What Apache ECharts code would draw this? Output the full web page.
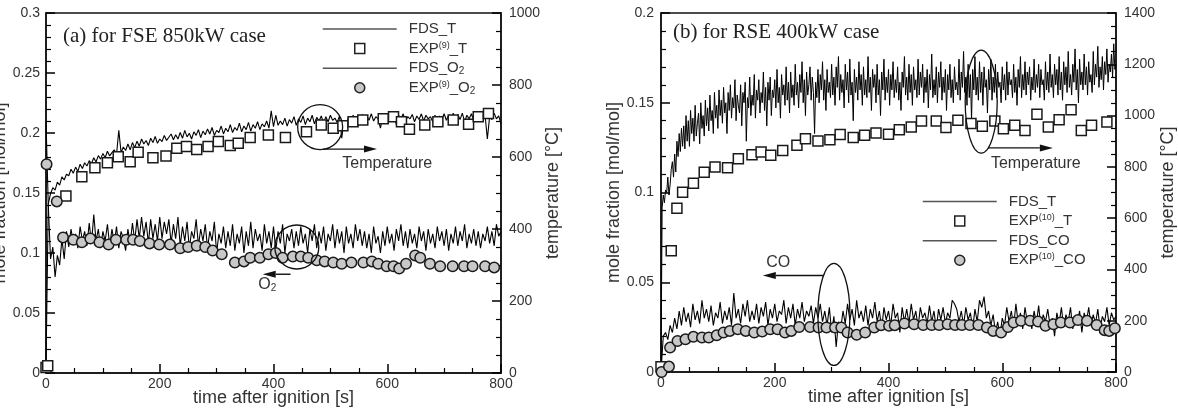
<!DOCTYPE html>
<html><head><meta charset="utf-8">
<script src="https://cdn.jsdelivr.net/npm/echarts@6/dist/echarts.min.js"></script>
<style>html,body{margin:0;padding:0;background:#fff}#c{width:1178px;height:408px}</style>
</head><body><div id="c"></div>
<script>
// ---------- DATA ----------
const fdsStep_a = 4;    // panel (a) FDS output every 4 s
const fdsStepT_b = 2;   // panel (b) FDS temperature every 2 s
const fdsStepCO_b = 4;  // panel (b) FDS CO every 4 s

// (a) FSE 850kW : FDS temperature [°C]
const fdsT_a = [20,470,498,515,508,530,522,545,536,552,
548,566,555,572,560,580,568,584,575,590,
582,598,586,604,594,610,598,616,603,612,
620,607,674,612,628,618,636,620,640,626,
644,630,650,636,646,632,652,640,657,638,
650,643,660,646,655,664,648,662,650,668,
652,674,656,666,650,670,660,676,654,672,
662,678,664,682,660,674,668,686,664,680,
670,690,668,682,674,694,670,686,676,696,
672,690,680,698,676,692,684,700,680,728,
684,716,688,700,690,708,686,704,694,712,
688,706,696,714,690,708,698,716,692,710,
700,714,694,712,698,716,702,708,696,714,
652,700,690,712,698,716,700,710,704,718,
698,714,702,720,700,712,706,680,710,716,
700,718,704,714,690,716,704,720,700,712,
706,718,698,714,704,720,700,716,706,712,
698,716,690,714,704,720,702,716,706,722,
700,718,704,722,698,716,706,720,702,718,
708,724,702,716,650,712,704,722,706,714,
692];

// (a) FDS O2 mole fraction
const fdsO2_a = [0.21,0.14,0.095,0.105,0.08,0.098,0.09,0.112,0.095,0.118,
0.105,0.12,0.108,0.116,0.104,0.122,0.11,0.118,0.106,0.125,
0.108,0.132,0.11,0.12,0.104,0.118,0.11,0.124,0.106,0.12,
0.108,0.122,0.104,0.118,0.112,0.102,0.12,0.108,0.125,0.11,
0.128,0.112,0.13,0.114,0.126,0.108,0.128,0.112,0.124,0.11,
0.13,0.112,0.126,0.116,0.128,0.108,0.124,0.112,0.13,0.106,
0.122,0.11,0.126,0.104,0.118,0.112,0.128,0.106,0.12,0.11,
0.124,0.104,0.118,0.11,0.126,0.1,0.116,0.108,0.122,0.104,
0.118,0.106,0.124,0.102,0.116,0.108,0.122,0.1,0.118,0.106,
0.126,0.104,0.12,0.11,0.116,0.102,0.124,0.108,0.118,0.104,
0.122,0.102,0.118,0.108,0.124,0.1,0.116,0.11,0.12,0.104,
0.118,0.106,0.122,0.108,0.116,0.1,0.12,0.11,0.124,0.104,
0.118,0.108,0.122,0.102,0.116,0.11,0.124,0.104,0.12,0.108,
0.118,0.1,0.122,0.108,0.116,0.104,0.124,0.11,0.12,0.106,
0.118,0.104,0.116,0.1,0.122,0.108,0.114,0.1,0.118,0.106,
0.122,0.108,0.116,0.102,0.12,0.11,0.124,0.106,0.118,0.104,
0.12,0.108,0.116,0.104,0.122,0.11,0.118,0.102,0.12,0.108,
0.116,0.104,0.122,0.11,0.118,0.106,0.12,0.102,0.116,0.108,
0.122,0.106,0.118,0.11,0.124,0.104,0.116,0.108,0.12,0.106,
0.118,0.104,0.116,0.11,0.122,0.108,0.118,0.106,0.124,0.114,
0.118];

// (a) experiment [9]
const expT_a_time = [0,3,35,63,86,108,127,148,162,188,211,230,247,265,285,303,324,338,359,391,421,458,484,505,522,540,557,593,611,625,639,666,689,716,743,760,778];
const expT_a_val  = [15,20,492,545,570,584,601,587,613,598,603,624,629,621,629,643,632,638,654,661,654,670,689,680,687,698,703,706,712,698,677,689,698,703,691,712,721];
const expO2_a_time = [1,19,30,48,63,78,94,110,123,141,153,165,182,199,218,236,250,265,280,293,309,332,348,359,376,391,404,416,434,448,461,476,490,505,520,537,558,573,584,599,611,621,633,649,658,675,693,715,735,750,772,788];
const expO2_a_val  = [0.174,0.143,0.113,0.111,0.109,0.112,0.109,0.107,0.111,0.111,0.111,0.110,0.108,0.107,0.107,0.104,0.105,0.106,0.105,0.102,0.099,0.092,0.093,0.096,0.096,0.099,0.100,0.096,0.097,0.097,0.096,0.094,0.093,0.092,0.091,0.092,0.092,0.093,0.091,0.089,0.089,0.087,0.091,0.098,0.096,0.091,0.089,0.089,0.089,0.089,0.089,0.088];

// (b) RSE 400kW : FDS temperature [°C], every 2 s
const fdsT_b = [20,640,690,660,710,700,760,690,730,790,
820,760,850,780,900,840,930,860,950,880,
960,870,1000,900,980,880,1020,930,990,900,
1040,920,970,1010,890,1050,950,1000,920,1060,
960,1030,940,1080,980,1020,930,1090,990,1040,
950,1100,1000,1060,970,1110,1010,1050,930,1090,
1020,1120,990,1070,1030,1140,980,1080,1040,1010,
1120,960,1090,1050,1130,900,1070,1030,1150,1000,
1080,1040,1160,990,1100,1060,1140,1010,1090,1050,
1170,1020,1110,960,1130,1060,1150,1000,1100,1070,
1140,1030,1180,1050,1110,990,1160,1080,1120,1040,
1190,1060,1130,1010,1170,1070,1120,1040,1200,1080,
1130,1030,1160,1090,1210,1050,1140,1000,1170,1080,
1120,1190,1060,1150,1090,930,1130,1070,1180,1050,
1160,1100,1210,1060,1140,1020,1180,1090,1130,1070,
1200,1080,1150,1040,1190,1110,1230,1060,1160,1090,
1140,1030,1200,1100,1170,1050,1220,1080,1130,980,
1180,1090,1150,1060,1210,1100,1160,1040,1190,1080,
1140,1070,1230,1090,1150,1020,1180,1110,1160,1050,
1200,1080,1140,1000,1170,1100,1220,1060,1150,1090,
1180,1040,1160,1100,1210,1070,1140,1090,1190,1060,
1130,1020,1170,1110,1230,1080,1150,1060,1200,1090,
1160,1040,1190,1100,1140,1070,1220,1080,1170,1110,
1200,1050,1150,1090,1180,1030,1160,1100,1240,1070,
1140,1080,1190,1050,1170,1110,1210,1060,1150,1090,
1180,1020,1160,1100,1200,1070,1140,1050,1190,1100,
1130,1080,1220,1060,1170,1110,1250,1090,1150,1040,
1200,1070,1160,980,1180,1100,1230,1080,1150,1060,
1210,1090,1170,1040,1190,1110,1140,1010,1180,1100,
1220,1060,1150,1090,1200,1070,1170,1110,1130,1050,
1190,1100,1160,1060,1210,1080,1170,1120,1140,1070,
1200,1090,1150,1040,1180,1110,1230,1070,1160,1100,
1210,1080,1170,1120,1190,1060,1150,1100,1220,1090,
1160,1110,1200,1070,1180,1120,1140,1060,1210,1100,
1170,1090,1240,1110,1160,1070,1200,1120,1180,1080,
1230,1100,1170,1060,1210,1120,1190,1090,1250,1110,
1160,1080,1200,1130,1260,1100,1180,1050,1220,1120,
1170,1100,1240,1120,1190,1080,1210,1130,1160,1090,
1250,1120,1200,1150,1270,1110,1190,1140,1230,1100,
1210,1160,1260,1130,1200,1170,1240,1150,1280,1180,
1200];

// (b) FDS CO mole fraction, every 4 s
const fdsCO_b = [0.0,0.02,0.022,0.018,0.026,0.022,0.03,0.024,0.034,0.026,
0.036,0.028,0.033,0.025,0.038,0.029,0.034,0.027,0.04,0.03,
0.035,0.028,0.037,0.026,0.033,0.03,0.039,0.027,0.034,0.029,
0.036,0.026,0.044,0.03,0.035,0.027,0.038,0.031,0.04,0.028,
0.034,0.029,0.038,0.027,0.036,0.031,0.039,0.026,0.035,0.03,
0.038,0.028,0.034,0.032,0.04,0.027,0.036,0.03,0.038,0.026,
0.035,0.03,0.039,0.028,0.034,0.031,0.037,0.027,0.036,0.03,
0.038,0.028,0.034,0.026,0.036,0.022,0.031,0.014,0.028,0.024,
0.034,0.027,0.038,0.029,0.035,0.026,0.04,0.03,0.034,0.028,
0.037,0.026,0.035,0.03,0.039,0.028,0.034,0.024,0.036,0.029,
0.034,0.026,0.038,0.03,0.033,0.022,0.036,0.028,0.035,0.027,
0.038,0.029,0.034,0.025,0.036,0.03,0.033,0.027,0.037,0.028,
0.034,0.024,0.035,0.029,0.036,0.027,0.033,0.03,0.04,0.038,
0.035,0.028,0.034,0.026,0.036,0.029,0.033,0.024,0.035,0.028,
0.04,0.036,0.042,0.03,0.034,0.026,0.032,0.022,0.028,0.02,
0.03,0.026,0.036,0.028,0.034,0.025,0.038,0.027,0.033,0.024,
0.036,0.028,0.031,0.024,0.034,0.027,0.037,0.025,0.032,0.028,
0.035,0.026,0.03,0.02,0.033,0.027,0.036,0.025,0.032,0.028,
0.036,0.024,0.031,0.027,0.034,0.022,0.033,0.028,0.036,0.026,
0.032,0.027,0.035,0.024,0.031,0.028,0.036,0.026,0.033,0.029,
0.031];

// (b) experiment [10]
const expT_b_time = [0,18,28,38,57,76,95,117,136,160,176,193,214,239,254,276,297,315,338,358,378,400,419,440,458,484,501,522,545,565,587,602,622,640,661,681,700,721,739,757,784];
const expT_b_val  = [20,473,639,701,736,779,799,797,832,847,858,845,864,884,910,901,906,926,914,923,932,927,945,955,979,979,953,982,969,958,979,949,962,942,1005,955,984,1023,942,962,975];
const expCO_b_time = [1,14,16,29,43,57,72,84,98,110,121,135,149,164,178,192,205,218,229,243,262,277,291,306,317,328,344,359,375,387,401,411,428,445,461,476,489,504,517,529,543,558,573,584,598,610,620,633,649,663,676,690,703,719,733,749,766,780,788,798];
const expCO_b_val  = [0,0.003,0.0136,0.0173,0.0182,0.0196,0.0192,0.0192,0.0205,0.022,0.0229,0.0238,0.0229,0.022,0.0225,0.0238,0.0238,0.022,0.0229,0.0251,0.0251,0.0248,0.0248,0.0248,0.0248,0.022,0.0207,0.022,0.0248,0.0261,0.0257,0.0261,0.027,0.0266,0.0262,0.0262,0.0262,0.0266,0.0262,0.0262,0.0262,0.0262,0.0248,0.0229,0.022,0.0251,0.0276,0.0285,0.0285,0.0281,0.0257,0.0266,0.0276,0.0276,0.0289,0.0285,0.0262,0.0233,0.0229,0.0244];

// legend labels
const legendLabels = {
  'FDS_T': 'FDS_T', 'EXP9_T': 'EXP{sup|(9)}_T', 'FDS_O2': 'FDS_O{sub|2}', 'EXP9_O2': 'EXP{sup|(9)}_O{sub|2}',
  'EXP10_T': 'EXP{sup|(10)}_T', 'FDS_CO': 'FDS_CO', 'EXP10_CO': 'EXP{sup|(10)}_CO'
};

// annotations in data coordinates (series index picks the axes)
const notes = [
  {kind:'ellipse', series:0, at:[482,683], rx:22.5, ry:22.5},
  {kind:'arrow', series:0, from:[487,622], to:[582,622]},
  {kind:'text', series:0, at:[600,583], text:'Temperature'},
  {kind:'ellipse', series:2, at:[441,0.105], rx:22, ry:22},
  {kind:'arrow', series:2, from:[430,0.0823], to:[381,0.0823]},
  {kind:'text', series:2, at:[389,0.0733], text:'O{sub|2}'},
  {kind:'ellipse', series:4, at:[563,1054], rx:16, ry:51.5},
  {kind:'arrow', series:4, from:[575,874], to:[689,874]},
  {kind:'text', series:4, at:[659,814], text:'Temperature'},
  {kind:'ellipse', series:6, at:[304,0.0321], rx:16, ry:51},
  {kind:'arrow', series:6, from:[285,0.0538], to:[179,0.0538]},
  {kind:'text', series:6, at:[206,0.0607], text:'CO'}
];

// ---------- CHART ----------
const SANS = '"Liberation Sans", Arial, Helvetica, sans-serif';
const SERIF = '"Liberation Serif", "Times New Roman", serif';
const INK = '#111';
const TXT = '#333';
function pairs(times, vals){ return times.map((t,i)=>[t, vals[i]]); }
function stepPairs(vals, step){ return vals.map((v,i)=>[i*step, v]); }
const plainNum = (v)=>String(v);

function xAxisCfg(gi){
  return {type:'value', gridIndex:gi, min:0, max:800, interval:200,
    axisLine:{show:true, onZero:false, lineStyle:{color:INK, width:1.5}},
    axisTick:{show:true, inside:true, length:9, lineStyle:{color:'#000', width:1.5}},
    minorTick:{show:true, splitNumber:4, length:5, lineStyle:{color:'#000', width:1.2}},
    splitLine:{show:false},
    axisLabel:{color:TXT, fontSize:14, fontFamily:SANS, margin:4, formatter:plainNum},
    name:'time after ignition [s]', nameLocation:'middle', nameGap:16, nameMoveOverlap:false,
    nameTextStyle:{color:TXT, fontSize:18, fontFamily:SANS}};
}
function yAxisCfg(gi, pos, max, interval, minorSplit, name, nameGap, margin){
  return {type:'value', gridIndex:gi, position:pos, min:0, max:max, interval:interval,
    axisLine:{show:true, onZero:false, lineStyle:{color:INK, width:1.5}},
    axisTick:{show:true, inside:true, length:9, lineStyle:{color:'#000', width:1.5}},
    minorTick:{show:true, splitNumber:minorSplit, length:5, lineStyle:{color:'#000', width:1.2}},
    splitLine:{show:false},
    axisLabel:{color:TXT, fontSize:14, fontFamily:SANS, margin:margin, formatter:plainNum},
    name:name, nameLocation:'middle', nameGap:nameGap,
    nameTextStyle:{color:TXT, fontSize:18, fontFamily:SANS}};
}
const lineLegendStyle = {color:'#555', width:1.5};
const rich = {
  sup:{fontSize:9, lineHeight:8, verticalAlign:'top', color:TXT, fontFamily:SANS},
  sub:{fontSize:10, lineHeight:10, verticalAlign:'bottom', color:TXT, fontFamily:SANS}
};
function legendCfg(left, top, names){
  return {orient:'vertical', left:left, top:top, padding:0, itemWidth:74, itemHeight:10, itemGap:3.6,
    selectedMode:false,
    data:[
      {name:names[0], itemStyle:{opacity:0}, lineStyle:lineLegendStyle},
      {name:names[1], icon:'path://M0,0H10V10H0Z', itemStyle:{color:'#fff', borderColor:'#222', borderWidth:1.5}},
      {name:names[2], itemStyle:{opacity:0}, lineStyle:lineLegendStyle},
      {name:names[3], icon:'circle', itemStyle:{color:'#c8c8c8', borderColor:'#222', borderWidth:1.5}}
    ],
    formatter:(n)=>legendLabels[n],
    textStyle:{fontSize:15, color:TXT, fontFamily:SANS, lineHeight:16, padding:[0,0,0,7], rich:rich}};
}
function fdsLine(name, xi, yi, vals, step, width){
  return {type:'line', name:name, xAxisIndex:xi, yAxisIndex:yi, data:stepPairs(vals, step),
    showSymbol:false, symbol:'none', lineStyle:{color:'#000', width:width}, z:2, silent:true};
}
function expScatter(name, xi, yi, times, vals, shape){
  const isRect = shape === 'rect';
  return {type:'scatter', name:name, xAxisIndex:xi, yAxisIndex:yi, data:pairs(times, vals),
    symbol:shape, symbolSize:isRect ? 10 : 10.5,
    itemStyle:{color:isRect ? '#fff' : '#c8c8c8', borderColor:'#1a1a1a', borderWidth:1.5, opacity:1}, z:3, silent:true};
}

const chart = echarts.init(document.getElementById('c'));
chart.setOption({
  animation:false,
  backgroundColor:'#fff',
  title:[
    {text:'(a) for FSE 850kW case', left:63, top:26, padding:0,
      textStyle:{fontFamily:SERIF, fontSize:21, fontWeight:'normal', color:'#222'}},
    {text:'(b) for RSE 400kW case', left:673, top:22, padding:0,
      textStyle:{fontFamily:SERIF, fontSize:21, fontWeight:'normal', color:'#222'}}
  ],
  grid:[
    {left:46, top:13, width:455, height:360, containLabel:false, outerBoundsMode:'none',
      show:true, borderColor:INK, borderWidth:1.5, backgroundColor:'rgba(0,0,0,0)'},
    {left:661, top:13, width:455, height:359, containLabel:false, outerBoundsMode:'none',
      show:true, borderColor:INK, borderWidth:1.5, backgroundColor:'rgba(0,0,0,0)'}
  ],
  xAxis:[xAxisCfg(0), xAxisCfg(1)],
  yAxis:[
    yAxisCfg(0, 'left', 0.3, 0.05, 5, 'mole fraction [mol/mol]', 32, 6),
    yAxisCfg(0, 'right', 1000, 200, 4, 'temperature [°C]', 34, 8),
    yAxisCfg(1, 'left', 0.2, 0.05, 5, 'mole fraction [mol/mol]', 35, 7),
    yAxisCfg(1, 'right', 1400, 200, 4, 'temperature [°C]', 38, 8)
  ],
  legend:[
    legendCfg(322, 21, ['FDS_T','EXP9_T','FDS_O2','EXP9_O2']),
    legendCfg(922, 193.5, ['FDS_T','EXP10_T','FDS_CO','EXP10_CO'])
  ],
  series:[
    fdsLine('FDS_T', 0, 1, fdsT_a, fdsStep_a, 1.1),
    expScatter('EXP9_T', 0, 1, expT_a_time, expT_a_val, 'rect'),
    fdsLine('FDS_O2', 0, 0, fdsO2_a, fdsStep_a, 1.1),
    expScatter('EXP9_O2', 0, 0, expO2_a_time, expO2_a_val, 'circle'),
    fdsLine('FDS_T', 1, 3, fdsT_b, fdsStepT_b, 1),
    expScatter('EXP10_T', 1, 3, expT_b_time, expT_b_val, 'rect'),
    fdsLine('FDS_CO', 1, 2, fdsCO_b, fdsStepCO_b, 1.1),
    expScatter('EXP10_CO', 1, 2, expCO_b_time, expCO_b_val, 'circle')
  ]
});

// annotations placed through the axes' own scales
function P(si, pt){ return chart.convertToPixel({seriesIndex:si}, pt); }
const gfx = [];
notes.forEach(n => {
  if (n.kind === 'ellipse') {
    const c = P(n.series, n.at);
    gfx.push({type:'ellipse', z:50, silent:true, shape:{cx:c[0], cy:c[1], rx:n.rx, ry:n.ry},
      style:{fill:'none', stroke:INK, lineWidth:1.3}});
  } else if (n.kind === 'arrow') {
    const a = P(n.series, n.from), b = P(n.series, n.to);
    const dx = b[0]-a[0], dy = b[1]-a[1], L = Math.hypot(dx, dy), ux = dx/L, uy = dy/L;
    const hl = 13, hw = 3.5, bx = b[0]-ux*hl, by = b[1]-uy*hl;
    gfx.push({type:'line', z:50, silent:true, shape:{x1:a[0], y1:a[1], x2:bx, y2:by}, style:{stroke:INK, lineWidth:1.4}});
    gfx.push({type:'polygon', z:50, silent:true, shape:{points:[[b[0],b[1]],[bx-uy*hw, by+ux*hw],[bx+uy*hw, by-ux*hw]]}, style:{fill:INK}});
  } else {
    const c = P(n.series, n.at);
    gfx.push({type:'text', z:50, silent:true, x:c[0], y:c[1],
      style:{text:n.text, align:'center', verticalAlign:'middle', fontSize:16, fontFamily:SANS, fill:TXT,
        lineHeight:16, rich:{sub:{fontSize:10, lineHeight:10, verticalAlign:'bottom', fill:TXT, fontFamily:SANS}}}});
  }
});
chart.setOption({graphic:gfx});
</script>
</body></html>
